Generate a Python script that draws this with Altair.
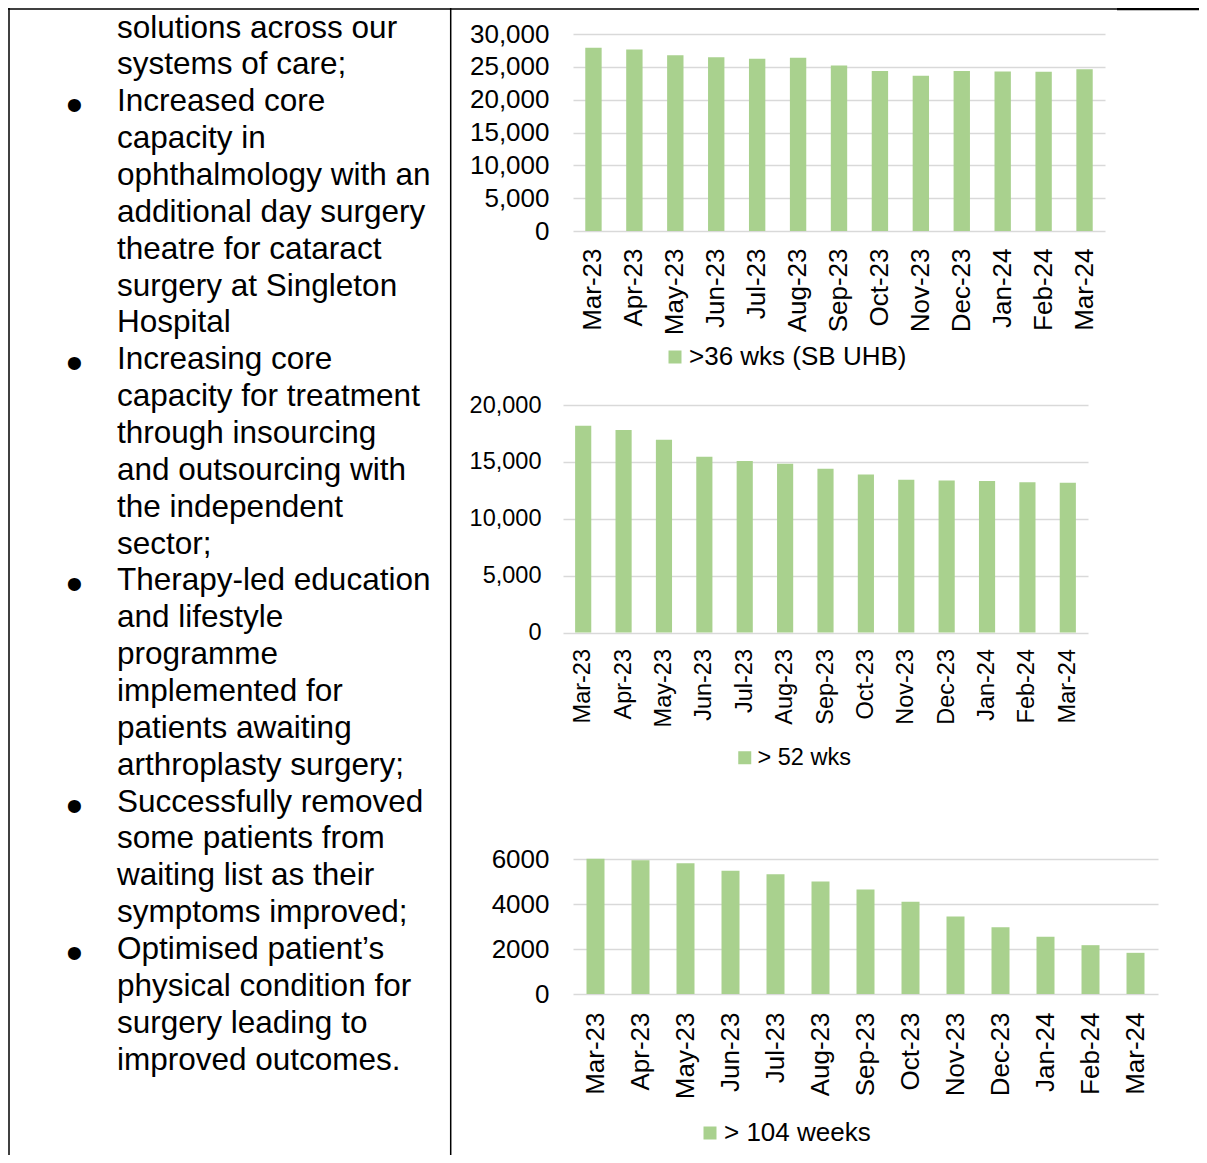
import altair as alt
import pandas as pd

# ---------------- data ----------------
months = ["Mar-23", "Apr-23", "May-23", "Jun-23", "Jul-23", "Aug-23", "Sep-23",
          "Oct-23", "Nov-23", "Dec-23", "Jan-24", "Feb-24", "Mar-24"]

wks36_label = ">36 wks (SB UHB)"
wks36 = [27900, 27650, 26750, 26450, 26250, 26400, 25200, 24350, 23650, 24350, 24300, 24250, 24650]

wks52_label = "> 52 wks"
wks52 = [18180, 17800, 16950, 15450, 15070, 14840, 14400, 13900, 13430, 13370, 13310, 13200, 13170]

wks104_label = "> 104 weeks"
wks104 = [6010, 5950, 5810, 5480, 5320, 5000, 4650, 4100, 3450, 2970, 2550, 2170, 1830]

text_lines = [
    "solutions across our",
    "systems of care;",
    "Increased core",
    "capacity in",
    "ophthalmology with an",
    "additional day surgery",
    "theatre for cataract",
    "surgery at Singleton",
    "Hospital",
    "Increasing core",
    "capacity for treatment",
    "through insourcing",
    "and outsourcing with",
    "the independent",
    "sector;",
    "Therapy-led education",
    "and lifestyle",
    "programme",
    "implemented for",
    "patients awaiting",
    "arthroplasty surgery;",
    "Successfully removed",
    "some patients from",
    "waiting list as their",
    "symptoms improved;",
    "Optimised patient\u2019s",
    "physical condition for",
    "surgery leading to",
    "improved outcomes.",
]
bullet_lines = [2, 9, 15, 21, 25]

# ---------------- layout constants ----------------
W, H = 1191, 1147
FONT = "Liberation Sans"
GREEN = "#a9d18e"
GRID = "#d9d9d9"

lines_df = pd.DataFrame({"line": list(range(len(text_lines))), "text": text_lines})
bullets_df = pd.DataFrame({"line": bullet_lines, "text": ["\u2022"] * len(bullet_lines)})

line_scale = alt.Scale(domain=[0, len(text_lines) - 1],
                       range=[29.5, 29.5 + (len(text_lines) - 1) * 36.86])

text_layer = alt.Chart(lines_df).mark_text(
    align="left", baseline="alphabetic", font=FONT, fontSize=31.5, color="black"
).encode(
    x=alt.value(109),
    y=alt.Y("line:Q", scale=line_scale, axis=None),
    text="text:N",
)
bullet_layer = alt.Chart(bullets_df).mark_text(
    align="center", baseline="alphabetic", font=FONT, fontSize=48, color="black", dy=10
).encode(
    x=alt.value(66.5),
    y=alt.Y("line:Q", scale=line_scale, axis=None),
    text="text:N",
)
text_block = alt.layer(text_layer, bullet_layer)

one = alt.Data(values=[{}])
border_top = alt.Chart(one).mark_rule(color="black", strokeWidth=1.5).encode(
    x=alt.value(0), x2=alt.value(W), y=alt.value(1))
border_top_thick = alt.Chart(one).mark_rule(color="black", strokeWidth=2.5).encode(
    x=alt.value(1109), x2=alt.value(W), y=alt.value(1))
border_left = alt.Chart(one).mark_rule(color="black", strokeWidth=1.5).encode(
    x=alt.value(1), y=alt.value(0), y2=alt.value(H))
border_mid = alt.Chart(one).mark_rule(color="black", strokeWidth=1.5).encode(
    x=alt.value(442.7), y=alt.value(0), y2=alt.value(H))


def bar_panel(values, label, x_range, y_bottom, y_top, y_max, y_ticks, y_fmt,
              fs, x_label_pad, y_label_pad, leg_x, leg_y):
    df = pd.DataFrame({"month": months, "value": values, "series": label})
    return alt.Chart(df).mark_bar(color=GREEN).encode(
        x=alt.X("month:N", sort=months, title=None,
                scale=alt.Scale(range=x_range, paddingInner=0.6, paddingOuter=0.3),
                axis=alt.Axis(orient="bottom", offset=y_bottom - H, labelAngle=270,
                              labelFont=FONT, labelFontSize=fs, labelColor="black",
                              labelPadding=x_label_pad, domain=False, ticks=False,
                              grid=False)),
        y=alt.Y("value:Q", title=None,
                scale=alt.Scale(domain=[0, y_max], range=[y_bottom, y_top], nice=False),
                axis=alt.Axis(orient="left", offset=-x_range[0], values=y_ticks,
                              format=y_fmt, labelFont=FONT, labelFontSize=fs,
                              labelColor="black", labelPadding=y_label_pad,
                              domain=False, ticks=False, grid=True,
                              gridColor=GRID, gridWidth=1.5)),
        color=alt.Color("series:N",
                        scale=alt.Scale(domain=[label], range=[GREEN]),
                        legend=alt.Legend(orient="none", legendX=leg_x, legendY=leg_y,
                                          title=None, labelFont=FONT, labelFontSize=fs,
                                          labelColor="black", labelLimit=500,
                                          symbolType="square",
                                          symbolSize=169, symbolStrokeWidth=0,
                                          labelOffset=1, padding=0)),
    )


chart1 = bar_panel(wks36, wks36_label, [565, 1097], 223, 26, 30000,
                   [0, 5000, 10000, 15000, 20000, 25000, 30000], ",.0f",
                   26, 17, 24, 654, 336)
chart2 = bar_panel(wks52, wks52_label, [555, 1080], 624.5, 397, 20000,
                   [0, 5000, 10000, 15000, 20000], ",.0f",
                   23.5, 16, 22, 725, 738)
chart3 = bar_panel(wks104, wks104_label, [565, 1150], 986, 851, 6000,
                   [0, 2000, 4000, 6000], "d",
                   26, 18, 24, 689, 1112)

chart = alt.layer(
    text_block, border_top, border_top_thick, border_left, border_mid,
    chart1, chart2, chart3,
).resolve_scale(
    x="independent", y="independent", color="independent"
).resolve_axis(
    x="independent", y="independent"
).resolve_legend(
    color="independent"
).properties(
    width=W, height=H, autosize=alt.AutoSizeParams(type="none"), padding=0,
    background="white",
).configure_view(strokeWidth=0)

chart.save("out.html", embed_options={"renderer": "svg", "actions": False})
